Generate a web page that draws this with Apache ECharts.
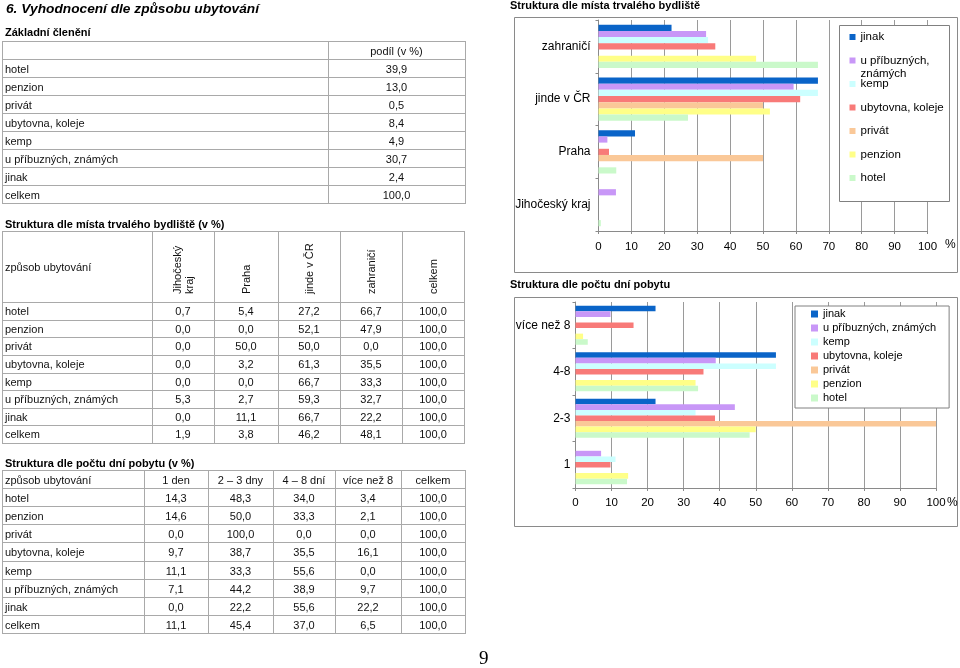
<!DOCTYPE html>
<html><head><meta charset="utf-8">
<script src="https://cdn.jsdelivr.net/npm/echarts@6/dist/echarts.min.js"></script>
<style>
html,body{margin:0;padding:0;background:#fff;width:960px;height:668px;overflow:hidden;font-family:"Liberation Sans",Arial,sans-serif;}
#chart{position:absolute;left:0;top:0;width:960px;height:668px;}
#page{position:absolute;left:0;top:0;width:960px;height:668px;}
.t{position:absolute;white-space:pre;font-size:11px;color:#111;}
.h{position:absolute;white-space:nowrap;font-weight:bold;font-size:11px;line-height:13px;color:#000;}
.ln{position:absolute;background:#a9a9a9;}
</style></head>
<body>
<div id="chart"></div>
<div id="page"></div>
<script>
// ---------- DATA ----------
const accommodationTypes = ['hotel', 'penzion', 'privát', 'ubytovna, koleje', 'kemp', 'u příbuzných, známých', 'jinak'];
const totalLabel = 'celkem';

// Základní členění – podíl (v %)
const basicShare = [39.9, 13.0, 0.5, 8.4, 4.9, 30.7, 2.4];
const basicTotal = 100.0;

// Struktura dle místa trvalého bydliště (v %)
const residenceColumns = ['Jihočeský kraj', 'Praha', 'jinde v ČR', 'zahraničí', 'celkem'];
const residenceHotel    = [0.7, 5.4, 27.2, 66.7, 100.0];
const residencePenzion  = [0.0, 0.0, 52.1, 47.9, 100.0];
const residencePrivat   = [0.0, 50.0, 50.0, 0.0, 100.0];
const residenceUbytovna = [0.0, 3.2, 61.3, 35.5, 100.0];
const residenceKemp     = [0.0, 0.0, 66.7, 33.3, 100.0];
const residencePribuzni = [5.3, 2.7, 59.3, 32.7, 100.0];
const residenceJinak    = [0.0, 11.1, 66.7, 22.2, 100.0];
const residenceTotal    = [1.9, 3.8, 46.2, 48.1, 100.0];

// Struktura dle počtu dní pobytu (v %)
const stayColumns = ['1 den', '2 – 3 dny', '4 – 8 dní', 'více než 8', 'celkem'];
const stayChartCategories = ['1', '2-3', '4-8', 'více než 8'];
const stayHotel    = [14.3, 48.3, 34.0, 3.4, 100.0];
const stayPenzion  = [14.6, 50.0, 33.3, 2.1, 100.0];
const stayPrivat   = [0.0, 100.0, 0.0, 0.0, 100.0];
const stayUbytovna = [9.7, 38.7, 35.5, 16.1, 100.0];
const stayKemp     = [11.1, 33.3, 55.6, 0.0, 100.0];
const stayPribuzni = [7.1, 44.2, 38.9, 9.7, 100.0];
const stayJinak    = [0.0, 22.2, 55.6, 22.2, 100.0];
const stayTotal    = [11.1, 45.4, 37.0, 6.5, 100.0];

const xTicks = [0, 10, 20, 30, 40, 50, 60, 70, 80, 90, 100];
const seriesOrder = ['jinak', 'u příbuzných, známých', 'kemp', 'ubytovna, koleje', 'privát', 'penzion', 'hotel'];

// ---------- helpers ----------
const residenceRows = [residenceHotel, residencePenzion, residencePrivat, residenceUbytovna, residenceKemp, residencePribuzni, residenceJinak];
const stayRows = [stayHotel, stayPenzion, stayPrivat, stayUbytovna, stayKemp, stayPribuzni, stayJinak];
const fmt = v => v.toFixed(1).replace('.', ',');
const page = document.getElementById('page');

function addLine(x, y, w, h) {
  const d = document.createElement('div'); d.className = 'ln';
  d.style.left = x + 'px'; d.style.top = y + 'px'; d.style.width = w + 'px'; d.style.height = h + 'px';
  page.appendChild(d);
}
function addHeading(text, x, y, extra) {
  const d = document.createElement('div'); d.className = 'h'; d.textContent = text;
  d.style.left = x + 'px'; d.style.top = y + 'px';
  if (extra) Object.assign(d.style, extra);
  page.appendChild(d);
}
function drawTable(xs, ys, cells) {
  const W = xs[xs.length - 1] - xs[0] + 1, H = ys[ys.length - 1] - ys[0] + 1;
  ys.forEach(y => addLine(xs[0], Math.round(y), W, 1));
  xs.forEach(x => addLine(x, Math.round(ys[0]), 1, H));
  cells.forEach((row, r) => row.forEach((cell, c) => {
    if (!cell || !cell.text) return;
    const d = document.createElement('div'); d.className = 't'; d.textContent = cell.text;
    const x0 = xs[c], x1 = xs[c + 1], y0 = ys[r], y1 = ys[r + 1];
    if (cell.rot) {
      d.style.left = ((x0 + x1) / 2) + 'px';
      d.style.top = (y1 - 8) + 'px';
      d.style.lineHeight = '12px';
      d.style.transformOrigin = '0 0';
      d.style.transform = 'rotate(-90deg) translateY(-50%)';
    } else {
      d.style.top = (y0 + 1) + 'px';
      d.style.height = (y1 - y0) + 'px';
      d.style.lineHeight = (y1 - y0) + 'px';
      if (cell.align === 'left') { d.style.left = (x0 + 3) + 'px'; }
      else { d.style.left = x0 + 'px'; d.style.width = (x1 - x0) + 'px'; d.style.textAlign = 'center'; }
    }
    page.appendChild(d);
  }));
}
const rowsEdges = (start, h, n) => Array.from({length: n + 1}, (_, i) => start + i * h);

// ---------- page headings & tables ----------
addHeading('6. Vyhodnocení dle způsobu ubytování', 6, 1, {fontSize: '13.7px', fontStyle: 'italic', lineHeight: '16px'});
addHeading('Základní členění', 5, 26);

// Table 1
{
  const cells = [[null, {text: 'podíl (v %)'}]];
  accommodationTypes.forEach((t, i) => cells.push([{text: t, align: 'left'}, {text: fmt(basicShare[i])}]));
  cells.push([{text: totalLabel, align: 'left'}, {text: fmt(basicTotal)}]);
  drawTable([2, 328, 465], rowsEdges(41, 18, 9), cells);
}

addHeading('Struktura dle místa trvalého bydliště (v %)', 5, 218);
// Table 2
{
  const cells = [[{text: 'způsob ubytování', align: 'left'}].concat(residenceColumns.map(c => ({text: c === 'Jihočeský kraj' ? 'Jihočeský\nkraj' : c, rot: true})))];
  accommodationTypes.forEach((t, i) => cells.push([{text: t, align: 'left'}].concat(residenceRows[i].map(v => ({text: fmt(v)})))));
  cells.push([{text: totalLabel, align: 'left'}].concat(residenceTotal.map(v => ({text: fmt(v)}))));
  const ys = [231].concat(rowsEdges(302, 17.625, 8));
  drawTable([2, 152, 214, 278, 340, 402, 464], ys, cells);
}

addHeading('Struktura dle počtu dní pobytu (v %)', 5, 457);
// Table 3
{
  const cells = [[{text: 'způsob ubytování', align: 'left'}].concat(stayColumns.map(c => ({text: c})))];
  accommodationTypes.forEach((t, i) => cells.push([{text: t, align: 'left'}].concat(stayRows[i].map(v => ({text: fmt(v)})))));
  cells.push([{text: totalLabel, align: 'left'}].concat(stayTotal.map(v => ({text: fmt(v)}))));
  drawTable([2, 144, 208, 273, 335, 401, 465], rowsEdges(470, 18.1, 9), cells);
}
addHeading('9', 479, 648, {fontFamily: '"Liberation Serif","Times New Roman",serif', fontWeight: 'normal', fontSize: '19px', lineHeight: '20px'});

// ---------- charts ----------
const colorMap = {
  'jinak': '#0A64C8',
  'u příbuzných, známých': '#C897F7',
  'kemp': '#CCFFFF',
  'ubytovna, koleje': '#F87A78',
  'privát': '#FAC898',
  'penzion': '#FFFF88',
  'hotel': '#CAF9CA'
};
const FONT = '"Liberation Sans", Arial, sans-serif';
const axisGray = '#8a8a8a';

function valueAxis(gridIndex, margin) {
  return {
    gridIndex, type: 'value', min: xTicks[0], max: xTicks[xTicks.length - 1], interval: xTicks[1] - xTicks[0],
    axisLine: {show: true, lineStyle: {color: axisGray, width: 1}},
    axisTick: {show: true, length: 3, lineStyle: {color: axisGray}},
    axisLabel: {fontSize: 11.5, color: '#000', margin, fontFamily: FONT},
    splitLine: {show: true, lineStyle: {color: '#9a9a9a', width: 1}}
  };
}
function categoryAxis(gridIndex, data, margin) {
  return {
    gridIndex, type: 'category', data,
    axisLine: {show: true, lineStyle: {color: axisGray, width: 1}},
    axisTick: {show: true, length: 3, interval: 0, lineStyle: {color: axisGray}},
    axisLabel: {fontSize: 12, color: '#000', margin, fontFamily: FONT, interval: 0},
    splitLine: {show: false}
  };
}

const series = [];
seriesOrder.forEach(name => {
  const idx = accommodationTypes.indexOf(name);
  series.push({
    name, type: 'bar', xAxisIndex: 0, yAxisIndex: 0,
    data: residenceRows[idx].slice(0, 4),
    itemStyle: {color: colorMap[name]},
    barGap: '0%', barCategoryGap: '18%', animation: false
  });
});
seriesOrder.forEach(name => {
  const idx = accommodationTypes.indexOf(name);
  series.push({
    name, type: 'bar', xAxisIndex: 1, yAxisIndex: 1,
    data: stayRows[idx].slice(0, 4),
    itemStyle: {color: colorMap[name]},
    barGap: '0%', barCategoryGap: '16%', animation: false
  });
});

// legend of chart 1: one entry per component (uniform spacing, wrapped long label)
const legend1Centers = [37, 60.5, 84, 107.5, 131, 154.5, 178];
const legends = seriesOrder.map((name, i) => {
  const wrap = name === 'u příbuzných, známých';
  return {
    data: [name],
    orient: 'vertical', left: 849.5, top: wrap ? legend1Centers[i] - 19.5 : legend1Centers[i] - 6,
    padding: 0, itemWidth: 6, itemHeight: 6, icon: 'rect', z: 10,
    formatter: n => n === 'u příbuzných, známých' ? '\nu příbuzných,\nznámých' : n,
    textStyle: {fontSize: 11.5, color: '#000', lineHeight: wrap ? 13 : 12, fontFamily: FONT}
  };
});
legends.push({
  data: seriesOrder, orient: 'vertical', left: 795, top: 306,
  padding: [1, 13, 3, 16], itemGap: 0, itemWidth: 7, itemHeight: 7, icon: 'rect',
  backgroundColor: '#fff', borderColor: '#808080', borderWidth: 1, z: 10,
  textStyle: {fontSize: 11, color: '#000', lineHeight: 14, fontFamily: FONT}
});

const chart = echarts.init(document.getElementById('chart'), null, {renderer: 'canvas'});
chart.setOption({
  animation: false,
  textStyle: {fontFamily: FONT},
  title: [
    {text: 'Struktura dle místa trvalého bydliště', left: 510, top: 0, padding: 0,
     textStyle: {fontSize: 11, fontWeight: 'bold', color: '#000', lineHeight: 12, fontFamily: FONT}},
    {text: 'Struktura dle počtu dní pobytu', left: 510, top: 279, padding: 0,
     textStyle: {fontSize: 11, fontWeight: 'bold', color: '#000', lineHeight: 12, fontFamily: FONT}}
  ],
  grid: [
    {left: 598.5, right: 960 - 927.5, top: 20, bottom: 668 - 231, containLabel: false, outerBoundsMode: 'none'},
    {left: 575.5, right: 960 - 936, top: 302, bottom: 668 - 488, containLabel: false, outerBoundsMode: 'none'}
  ],
  xAxis: [valueAxis(0, 10), valueAxis(1, 9)],
  yAxis: [categoryAxis(0, residenceColumns.slice(0, 4), 8), categoryAxis(1, stayChartCategories, 5)],
  legend: legends,
  tooltip: {show: false},
  graphic: [
    {type: 'rect', shape: {x: 514.5, y: 17.5, width: 443, height: 255}, style: {fill: null, stroke: '#8a8a8a', lineWidth: 1}, z: 1, silent: true},
    {type: 'rect', shape: {x: 514.5, y: 297.5, width: 443, height: 229}, style: {fill: null, stroke: '#8a8a8a', lineWidth: 1}, z: 1, silent: true},
    {type: 'rect', shape: {x: 839.5, y: 25.5, width: 110, height: 176}, style: {fill: '#fff', stroke: '#808080', lineWidth: 1}, z: 5, silent: true},
    {type: 'text', x: 945, y: 245, style: {text: '%', fontSize: 12, fill: '#000', verticalAlign: 'middle', fontFamily: FONT}, z: 5},
    {type: 'text', x: 947, y: 503, style: {text: '%', fontSize: 12, fill: '#000', verticalAlign: 'middle', fontFamily: FONT}, z: 5}
  ],
  series
});
</script>
</body></html>
